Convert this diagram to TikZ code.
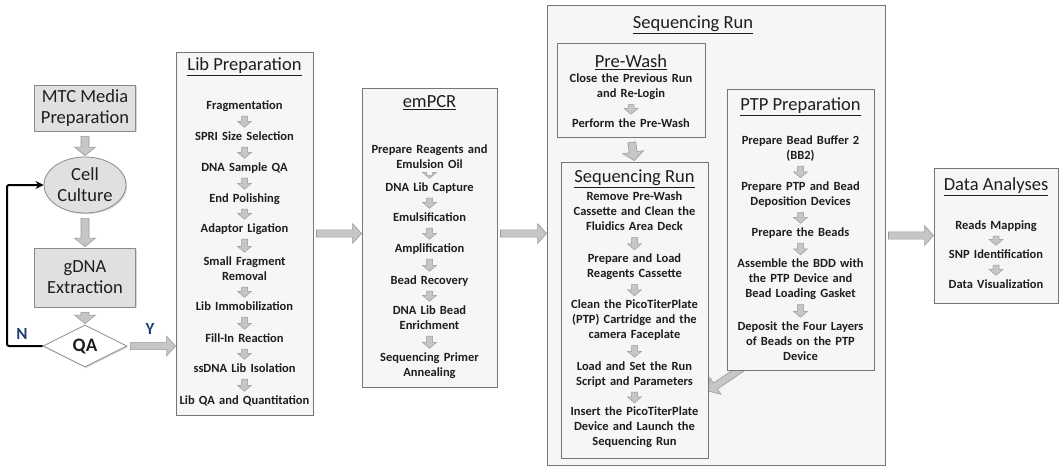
\documentclass[tikz,border=0pt]{standalone}
\usepackage{fontspec}
\setmainfont{Carlito}
\usetikzlibrary{calc,shapes.geometric,shadows,arrows.meta}
\pgfdeclarelayer{bg}
\pgfdeclarelayer{mid}
\pgfsetlayers{bg,mid,main}

\definecolor{textc}{HTML}{1E1E1E}
\definecolor{panelfill}{HTML}{F6F6F6}
\definecolor{panelline}{HTML}{767676}
\definecolor{stepfill}{HTML}{E0E0E0}
\definecolor{stepline}{HTML}{8A8A8A}
\definecolor{arrowfill}{HTML}{C6C6C6}
\definecolor{arrowline}{HTML}{9A9A9A}
\definecolor{labelblue}{HTML}{1F4170}

\newcommand{\itemfont}{\fontsize{12.5}{15}\selectfont\bfseries}
\newcommand{\titlefont}{\fontsize{18.5}{22}\selectfont}
\newcommand{\startfont}{\fontsize{18.5}{21}\selectfont}

\tikzset{
  % block arrow built as a polygon between two points
  blockarrow/.style={to path={
    ($(\tikztostart)!\bgap!(\tikztotarget)$) coordinate (bas)
    ($(\tikztotarget)!\bend!(\tikztostart)$) coordinate (bat)
    ($(bat)!\bhl!(bas)$) coordinate (bah)
    ($(bas)!\bsw!90:(bah)$) -- ($(bah)!\bsw!-90:(bas)$) -- ($(bah)!\bhw!-90:(bas)$)
    -- (bat) -- ($(bah)!\bhw!90:(bas)$) -- ($(bah)!\bsw!90:(bas)$)
    -- ($(bas)!\bsw!-90:(bah)$) -- cycle
  }},
  bigarrow/.style={blockarrow, fill=arrowfill, draw=arrowline, line width=0.6pt,
    /utils/exec={\def\bgap{3pt}\def\bend{0pt}\def\bsw{3.6pt}\def\bhw{10pt}\def\bhl{9pt}}},
  vertarrow/.style={blockarrow, fill=arrowfill, draw=arrowline, line width=0.6pt,
    /utils/exec={\def\bgap{5pt}\def\bend{1pt}\def\bsw{4pt}\def\bhw{10.5pt}\def\bhl{8.5pt}}},
  smallarrow/.style={blockarrow, fill=arrowfill, draw=arrowline, line width=0.5pt,
    /utils/exec={\def\bgap{1.5pt}\def\bend{1pt}\def\bsw{3pt}\def\bhw{7pt}\def\bhl{6pt}}},
  panel/.style={draw=panelline, fill=panelfill, line width=0.9pt, inner sep=0pt,
    drop shadow={shadow xshift=1.3pt, shadow yshift=-1.3pt, opacity=0.35}},
  stepbox/.style={draw=stepline, fill=stepfill, line width=0.8pt, align=center,
    font=\startfont, text=textc, inner sep=0pt,
    drop shadow={shadow xshift=1.2pt, shadow yshift=-1.2pt, opacity=0.3}},
  item/.style={text width=150pt, align=center, font=\itemfont, text=textc, inner sep=1pt,
    execute at begin node=\strut, execute at end node=\strut},
  title/.style={font=\titlefont, text=textc, inner sep=0pt},
  yn/.style={font=\fontsize{17}{20}\selectfont\bfseries, text=labelblue, inner sep=0pt},
  nloop/.style={line width=2pt, draw=black, rounded corners=2pt,
    -{Stealth[length=8pt,width=8pt]}},
}

\begin{document}
\begin{tikzpicture}[x=1pt, y=-1pt]
\useasboundingbox (0,0) rectangle (1061,467);

% outer sequencing panel sits underneath everything
\begin{pgfonlayer}{bg}
  \node[panel, minimum width=338pt, minimum height=460pt] (seqout) at (716,235) {};
\end{pgfonlayer}

% ---- sample preparation column ----
\node[stepbox, minimum width=101pt, minimum height=46pt] (mtc) at (85,108) {MTC Media\\Preparation};
\node[stepbox, ellipse, minimum width=82pt, minimum height=56pt] (cc) at (85,185) {Cell\\Culture};
\node[stepbox, minimum width=101pt, minimum height=59pt] (gdna) at (85,277.5) {gDNA\\Extraction};
\node[stepbox, diamond, fill=white, minimum width=84pt, minimum height=42pt,
      font=\fontsize{19}{22}\selectfont\bfseries] (qa) at (85,346) {QA};
\node[yn] (nlab) at (22,334) {N};
\node[yn] (ylab) at (150,329) {Y};
\coordinate (nbend) at (7,265);

\draw[vertarrow] (mtc.south) to (cc.north);
\draw[vertarrow] (cc.south) to (gdna.north);
\draw[vertarrow] (gdna.south) to (qa.north);
\draw[nloop] (qa.west) -| (nbend) |- (cc.west);

% ---- library preparation ----
\node[panel, minimum width=137pt, minimum height=363pt] (libbox) at (244.5,233.5) {};
\node[title] (libtitle) at (244.5,67) {\underline{Lib Preparation}};
\node[item] (l1) at (244.5,106) {Fragmentation};
\node[item] (l2) at (244.5,137) {SPRI Size Selection};
\node[item] (l3) at (244.5,168) {DNA Sample QA};
\node[item] (l4) at (244.5,199) {End Polishing};
\node[item] (l5) at (244.5,229) {Adaptor Ligation};
\node[item] (l6) at (244.5,269.5) {Small Fragment\\Removal};
\node[item] (l7) at (244.5,307) {Lib Immobilization};
\node[item] (l8) at (244.5,339) {Fill-In Reaction};
\node[item] (l9) at (244.5,369) {ssDNA Lib Isolation};
\node[item] (l10) at (244.5,401) {Lib QA and Quantitation};
\foreach \a/\b in {l1/l2,l2/l3,l3/l4,l4/l5,l5/l6,l6/l7,l7/l8,l8/l9,l9/l10}
  \draw[smallarrow] (\a.south) to (\b.north);

% ---- emulsion PCR ----
\node[panel, minimum width=135pt, minimum height=299pt] (embox) at (429.5,237.5) {};
\node[title] (emtitle) at (429.5,103) {\underline{emPCR}};
\node[item] (e1) at (429.5,158) {Prepare Reagents and\\Emulsion Oil};
\node[item] (e2) at (429.5,188) {DNA Lib Capture};
\node[item] (e3) at (429.5,218) {Emulsification};
\node[item] (e4) at (429.5,249) {Amplification};
\node[item] (e5) at (429.5,281) {Bead Recovery};
\node[item] (e6) at (429.5,318.5) {DNA Lib Bead\\Enrichment};
\node[item] (e7) at (429.5,365.5) {Sequencing Primer\\Annealing};
\foreach \a/\b in {e1/e2,e2/e3,e3/e4,e4/e5,e5/e6,e6/e7}
  \draw[smallarrow] (\a.south) to (\b.north);

% ---- sequencing run ----
\node[title] (seqtitle) at (693,25) {\underline{Sequencing Run}};

\node[panel, minimum width=148pt, minimum height=94pt] (prewash) at (631,90) {};
\node[title] (pwtitle) at (631,62) {\underline{Pre-Wash}};
\node[item] (w1) at (631,87) {Close the Previous Run\\and Re-Login};
\node[item] (w2) at (631,124) {Perform the Pre-Wash};
\draw[smallarrow] (w1.south) to (w2.north);

\node[panel, minimum width=147pt, minimum height=296pt] (seqin) at (634.5,310) {};
\node[title] (sititle) at (634.5,179) {\underline{Sequencing Run}};
\node[item] (s1) at (634.5,212.5) {Remove Pre-Wash\\Cassette and Clean the\\Fluidics Area Deck};
\node[item] (s2) at (634.5,267) {Prepare and Load\\Reagents Cassette};
\node[item] (s3) at (634.5,320.5) {Clean the PicoTiterPlate\\(PTP) Cartridge and the\\camera Faceplate};
\node[item] (s4) at (634.5,374.5) {Load and Set the Run\\Script and Parameters};
\node[item] (s5) at (634.5,427.5) {Insert the PicoTiterPlate\\Device and Launch the\\Sequencing Run};
\foreach \a/\b in {s1/s2,s2/s3,s3/s4,s4/s5}
  \draw[smallarrow] (\a.south) to (\b.north);
\draw[vertarrow] (prewash.south) to (seqin.north);

\node[panel, minimum width=147pt, minimum height=281pt] (ptp) at (800.5,229.5) {};
\node[title] (ptptitle) at (800.5,107) {\underline{PTP Preparation}};
\node[item] (p1) at (800.5,148.5) {Prepare Bead Buffer 2\\(BB2)};
\node[item] (p2) at (800.5,195) {Prepare PTP and Bead\\Deposition Devices};
\node[item] (p3) at (800.5,233) {Prepare the Beads};
\node[item] (p4) at (800.5,279.5) {Assemble the BDD with\\the PTP Device and\\Bead Loading Gasket};
\node[item] (p5) at (800.5,342) {Deposit the Four Layers\\of Beads on the PTP\\Device};
\foreach \a/\b in {p1/p2,p2/p3,p3/p4,p4/p5}
  \draw[smallarrow] (\a.south) to (\b.north);

% bead preparation feeds the run
\coordinate (diagtip) at (708,391);
\begin{pgfonlayer}{mid}
  \draw[bigarrow] ($(ptp.south west)+(18,-4)$) to (diagtip);
\end{pgfonlayer}

% ---- data analyses ----
\node[panel, minimum width=124pt, minimum height=135pt] (databox) at (996,235.5) {};
\node[title] (datatitle) at (996,187) {\underline{Data Analyses}};
\node[item] (d1) at (996,226) {Reads Mapping};
\node[item] (d2) at (996,255) {SNP Identification};
\node[item] (d3) at (996,285) {Data Visualization};
\foreach \a/\b in {d1/d2,d2/d3}
  \draw[smallarrow] (\a.south) to (\b.north);

% ---- stage-to-stage arrows ----
\draw[bigarrow] (qa.east) to (libbox.west |- qa.east);
\draw[bigarrow] (libbox.east) to (embox.west |- libbox.east);
\draw[bigarrow] (embox.east |- libbox.east) to (seqout.west |- libbox.east);
\draw[bigarrow] (seqout.east |- databox.west) to (databox.west);
\end{tikzpicture}
\end{document}
